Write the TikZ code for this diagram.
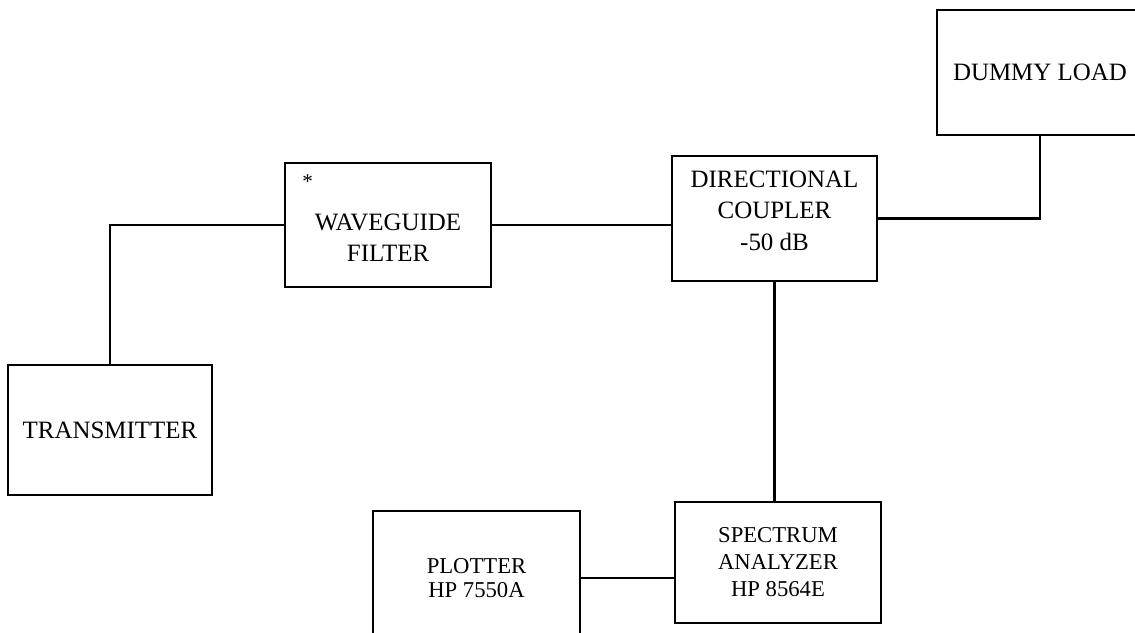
\documentclass[tikz,border=0pt]{standalone}
\usepackage{fontspec}
\setmainfont{Liberation Serif}
\usetikzlibrary{positioning, calc}

\begin{document}
\begin{tikzpicture}[
      x=0.02cm, y=-0.02cm,
      every node/.style={font=\fontsize{14.2}{18}\selectfont},
      unit/.style={draw, line width=1.5pt, align=center, inner sep=0pt},
      wire/.style={line width=1.5pt},
    ]
    \clip (0,0) rectangle (1135,632);
    \fill[white] (0,0) rectangle (1135,632);
    % blocks
    \node[unit, minimum width=4.08cm, minimum height=2.6cm] (trans) at (110,430)
      {TRANSMITTER};
    \node[unit, minimum width=4.12cm, minimum height=2.48cm] (filter) at (388,225)
      {\rule{0pt}{24pt}WAVEGUIDE\\FILTER};
    \node[unit, minimum width=4.1cm, minimum height=2.5cm] (coupler) at (774.5,218.5)
      {DIRECTIONAL\\COUPLER\\-50 dB\rule[-9pt]{0pt}{9pt}};
    \node[unit, minimum width=4.12cm, minimum height=2.5cm] (load) at (1040,72.5)
      {DUMMY LOAD};
    \node[unit, minimum width=4.12cm, minimum height=2.42cm,
          font=\fontsize{12.9}{15.4}\selectfont] (analyzer) at (778,562.5)
      {SPECTRUM\\ANALYZER\\HP 8564E};
    \node[unit, minimum width=4.14cm, minimum height=2.68cm,
          font=\fontsize{12.9}{13.8}\selectfont] (plotter) at (476.5,578)
      {PLOTTER\\HP 7550A};
    \node[font=\fontsize{12}{12}\selectfont] (star) at ($(filter.north west)+(24,20)$) {*};
    % connections
    \draw[wire] (trans.north) |- (filter.west);
    \draw[wire] (filter.east) -- (coupler.west |- filter.east);
    \draw[wire] (coupler.east) -| (load.south);
    \draw[wire] (coupler.south) -- (analyzer.north -| coupler.south);
    \draw[wire] (plotter.east) -- (analyzer.west |- plotter.east);
  \end{tikzpicture}
\end{document}
